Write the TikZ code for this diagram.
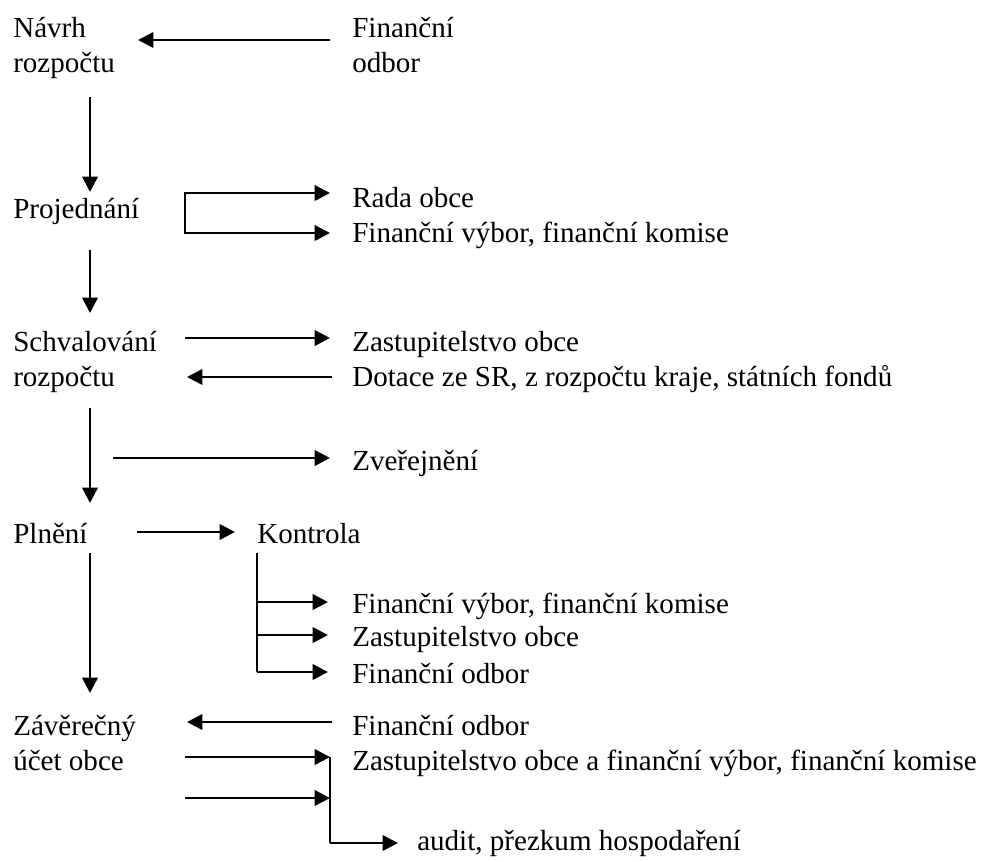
\documentclass[tikz,border=0pt]{standalone}
\usepackage{fontspec}
\setmainfont{Liberation Serif}
\usetikzlibrary{arrows.meta,positioning}

\tikzset{
  lbl/.style={anchor=base west, inner sep=0pt, align=left,
    font=\fontsize{21.8}{26.25}\selectfont},
  arr/.style={line width=1.9pt, -{Triangle[length=11.5pt,width=11.5pt]}},
  ln/.style={line width=1.9pt},
}

\begin{document}
\begin{tikzpicture}[x=0.75pt,y=-0.75pt]
\useasboundingbox (0,0) rectangle (984,861);
% stages (base = last line)
\node[lbl] (navrh) at (13,72) {Návrh\\rozpočtu};
\node[lbl] (projed) at (13,218) {Projednání};
\node[lbl] (schval) at (13,386) {Schvalování\\rozpočtu};
\node[lbl] (plneni) at (13,543) {Plnění};
\node[lbl] (zaver) at (13,770) {Závěrečný\\účet obce};
% participants
\node[lbl] (fo1) at (352,72) {Finanční\\odbor};
\node[lbl] (rada) at (352,207) {Rada obce};
\node[lbl] (fv1) at (352,242) {Finanční výbor, finanční komise};
\node[lbl] (zo1) at (352,351) {Zastupitelstvo obce};
\node[lbl] (dot) at (352,386) {Dotace ze SR, z rozpočtu kraje, státních fondů};
\node[lbl] (zver) at (352,470) {Zveřejnění};
\node[lbl] (kontr) at (257,543) {Kontrola};
\node[lbl] (fv2) at (352,613) {Finanční výbor, finanční komise};
\node[lbl] (zo2) at (352,646) {Zastupitelstvo obce};
\node[lbl] (fo2) at (352,683) {Finanční odbor};
\node[lbl] (fo3) at (352,735) {Finanční odbor};
\node[lbl] (zofv) at (352,770) {Zastupitelstvo obce a finanční výbor, finanční komise};
\node[lbl] (audit) at (417,850) {audit, přezkum hospodaření};

% main line down
\coordinate (d1) at (90,97);  \coordinate (d2) at (90,192);
\coordinate (d3) at (90,250); \coordinate (d4) at (90,313);
\coordinate (d5) at (90,408); \coordinate (d6) at (90,503);
\coordinate (d7) at (90,553); \coordinate (d8) at (90,693);
\draw[arr] (d1) -- (d2);
\draw[arr] (d3) -- (d4);
\draw[arr] (d5) -- (d6);
\draw[arr] (d7) -- (d8);

% navrh
\coordinate (n1) at (330,40); \coordinate (n2) at (138,40);
\draw[arr] (n1) -- (n2);

% projednani
\coordinate (p1) at (185,193); \coordinate (p2) at (330,193);
\coordinate (p3) at (185,233); \coordinate (p4) at (330,233);
\draw[arr] (p3) -- (p1) -- (p2);
\draw[arr] (p1) |- (p4);

% schvalovani
\coordinate (s1) at (185,338); \coordinate (s2) at (330,338);
\coordinate (s3) at (332,377); \coordinate (s4) at (187,377);
\draw[arr] (s1) -- (s2);
\draw[arr] (s3) -- (s4);
\coordinate (z1) at (113,458); \coordinate (z2) at (330,458);
\draw[arr] (z1) -- (z2);

% plneni a kontrola
\coordinate (k1) at (137,532); \coordinate (k2) at (235,532);
\draw[arr] (k1) -- (k2);
\coordinate (k3) at (257,553); \coordinate (k4) at (257,672);
\draw[ln] (k3) -- (k4);
\foreach \yy in {602,635,672}
  \draw[arr] (257,\yy) -- (328,\yy);

% zaverecny ucet
\coordinate (u1) at (332,722); \coordinate (u2) at (187,722);
\draw[arr] (u1) -- (u2);
\coordinate (u3) at (185,757); \coordinate (u4) at (330,757);
\coordinate (u5) at (185,798); \coordinate (u6) at (330,798);
\draw[arr] (u3) -- (u4);
\draw[arr] (u5) -- (u6);
\coordinate (u7) at (330,843); \coordinate (u8) at (398,843);
\draw[ln] (u4) -- (u7);
\draw[arr] (u7) -- (u8);
\end{tikzpicture}
\end{document}
